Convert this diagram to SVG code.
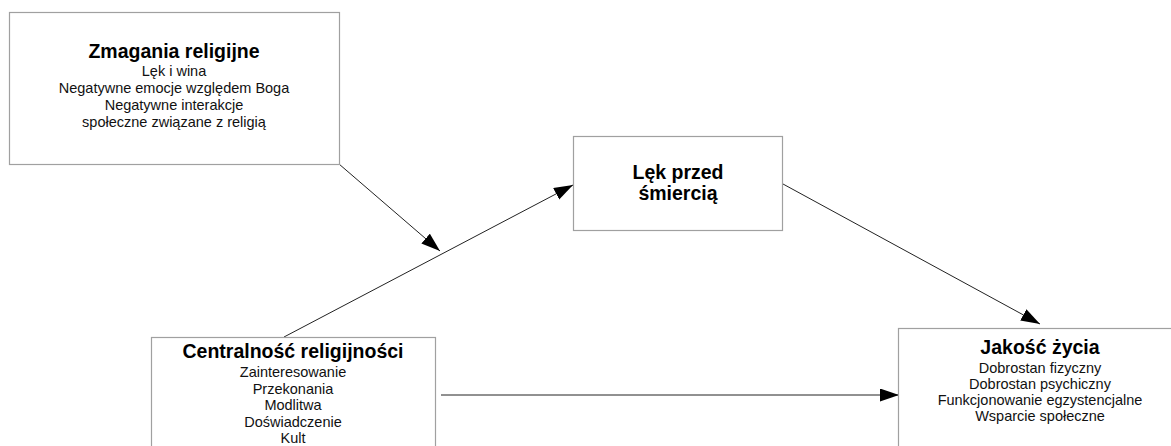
<svg xmlns="http://www.w3.org/2000/svg" width="1171" height="446" viewBox="0 0 1171 446">
  <defs>
    <marker id="arrow" markerUnits="userSpaceOnUse" markerWidth="20" markerHeight="14" refX="19" refY="6.5" orient="auto">
      <path d="M0,0 L19,6.5 L0,13 Z" fill="#000"/>
    </marker>
    <style>
      .box { fill: #fff; stroke: #a0a0a0; stroke-width: 1.2; }
      .title { font-family: "Liberation Sans", Arial, sans-serif; font-weight: bold; font-size: 19.5px; fill: #000; text-anchor: middle; }
      .item { font-family: "Liberation Sans", Arial, sans-serif; font-size: 14.5px; fill: #111; text-anchor: middle; }
      .link { stroke: #222; stroke-width: 1; fill: none; marker-end: url(#arrow); }
    </style>
  </defs>
  <rect width="1171" height="446" fill="#fff"/>

  <g id="connectors">
    <line class="link" x1="339" y1="164" x2="440" y2="251"/>
    <line class="link" x1="284" y1="337" x2="573" y2="185"/>
    <line class="link" x1="783" y1="184" x2="1040" y2="324"/>
    <line class="link" x1="441" y1="395" x2="899" y2="395"/>
  </g>

  <g id="node-zmagania">
    <rect class="box" x="9.5" y="12.5" width="330" height="152"/>
    <text class="title" x="174" y="58">Zmagania religijne</text>
    <text class="item" x="174" y="76">Lęk i wina</text>
    <text class="item" x="174" y="93">Negatywne emocje względem Boga</text>
    <text class="item" x="174" y="110">Negatywne interakcje</text>
    <text class="item" x="174" y="127">społeczne związane z religią</text>
  </g>

  <g id="node-lek">
    <rect class="box" x="573.5" y="136.5" width="209" height="94"/>
    <text class="title" x="678" y="179">Lęk przed</text>
    <text class="title" x="678" y="200">śmiercią</text>
  </g>

  <g id="node-centralnosc">
    <rect class="box" x="151.5" y="337.5" width="284" height="120"/>
    <text class="title" x="293" y="358">Centralność religijności</text>
    <text class="item" x="293" y="377">Zainteresowanie</text>
    <text class="item" x="293" y="394">Przekonania</text>
    <text class="item" x="293" y="410">Modlitwa</text>
    <text class="item" x="293" y="427">Doświadczenie</text>
    <text class="item" x="293" y="443">Kult</text>
  </g>

  <g id="node-jakosc">
    <rect class="box" x="898.5" y="328.5" width="290" height="130"/>
    <text class="title" x="1040" y="354">Jakość życia</text>
    <text class="item" x="1040" y="373">Dobrostan fizyczny</text>
    <text class="item" x="1040" y="389">Dobrostan psychiczny</text>
    <text class="item" x="1040" y="405">Funkcjonowanie egzystencjalne</text>
    <text class="item" x="1040" y="421">Wsparcie społeczne</text>
  </g>
</svg>
